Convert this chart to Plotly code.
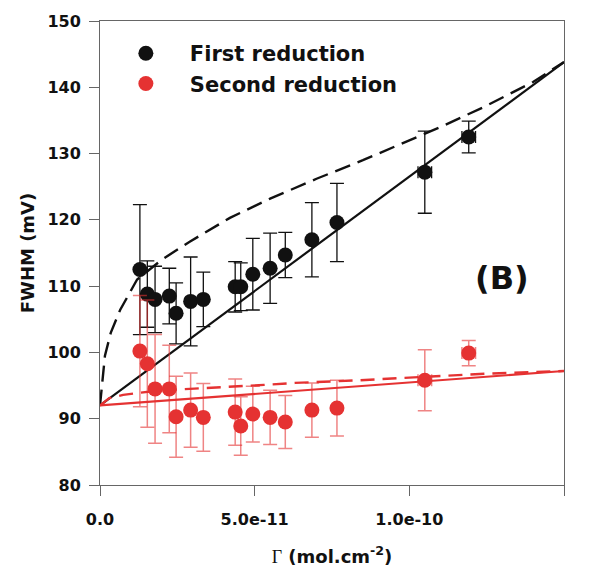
import plotly.graph_objects as go

# ---------------- data ----------------
gamma = [1.29e-11, 1.53e-11, 1.78e-11, 2.24e-11, 2.46e-11, 2.93e-11, 3.34e-11, 4.37e-11,
         4.55e-11, 4.94e-11, 5.50e-11, 5.99e-11, 6.85e-11, 7.66e-11, 10.50e-11, 11.92e-11]
gamma_err = [0, 0, 0, 0, 0, 0, 0, 0, 0, 0, 0, 0, 0, 0, 0.22e-11, 0.22e-11]

first_fwhm = [112.5, 108.8, 108.0, 108.5, 105.9, 107.7, 108.0, 109.9,
              109.9, 111.8, 112.7, 114.7, 117.0, 119.6, 127.2, 132.5]
first_err = [9.8, 5.0, 5.0, 4.2, 4.6, 6.7, 4.1, 3.8, 3.6, 5.4, 5.3, 3.4, 5.6, 5.9, 6.2, 2.4]

second_fwhm = [100.2, 98.3, 94.5, 94.5, 90.3, 91.3, 90.2, 91.0,
               88.9, 90.7, 90.2, 89.5, 91.3, 91.6, 95.8, 99.9]
second_err = [8.4, 9.6, 8.2, 6.6, 6.1, 5.6, 5.1, 5.0, 4.4, 4.2, 4.1, 4.0, 4.1, 4.2, 4.6, 1.9]

# model lines
lin_x = [0.0, 1.5e-10]
first_lin_y = [92.0, 143.8]
second_lin_y = [92.0, 97.2]

first_dash_x = [0.0, 0.07e-11, 0.16e-11, 0.35e-11, 0.65e-11, 1.2e-11, 2.0e-11, 2.9e-11, 4.2e-11,
                5.5e-11, 7.0e-11, 8.5e-11, 9.8e-11, 11.0e-11, 12.4e-11, 14.0e-11, 15.0e-11]
first_dash_y = [92.0, 95.0, 99.5, 103.0, 106.4, 111.0, 114.0, 116.7, 120.3,
                123.2, 126.2, 129.0, 131.6, 134.0, 137.0, 140.8, 143.8]

second_dash_x = [0.0, 0.3e-11, 0.75e-11, 1.8e-11, 2.9e-11, 4.2e-11, 5.3e-11, 6.3e-11,
                 8.4e-11, 10.4e-11, 12.5e-11, 15.0e-11]
second_dash_y = [92.0, 93.1, 93.6, 94.2, 94.5, 94.8, 95.1, 95.4,
                 95.8, 96.3, 96.8, 97.2]

x_tickvals = [0.0, 5e-11, 1e-10, 1.5e-10]
x_ticktext = ["0.0", "5.0e-11", "1.0e-10", "1.5e-10"]
y_tickvals = [80, 90, 100, 110, 120, 130, 140, 150]

BLACK = "#111111"
RED = "#e53232"
RED_ERR = "rgba(229,50,50,0.6)"
FONT = "DejaVu Sans"

fig = go.Figure()

# lines
fig.add_trace(go.Scatter(x=first_dash_x, y=first_dash_y, mode="lines", showlegend=False,
                         line=dict(color=BLACK, width=2.4, dash="16px,8px"), hoverinfo="skip"))
fig.add_trace(go.Scatter(x=lin_x, y=first_lin_y, mode="lines", showlegend=False,
                         line=dict(color=BLACK, width=2.2), hoverinfo="skip"))
fig.add_trace(go.Scatter(x=second_dash_x, y=second_dash_y, mode="lines", showlegend=False,
                         line=dict(color=RED, width=2.4, dash="14px,8px"), hoverinfo="skip"))
fig.add_trace(go.Scatter(x=lin_x, y=second_lin_y, mode="lines", showlegend=False,
                         line=dict(color=RED, width=2.2), hoverinfo="skip"))

# data points
fig.add_trace(go.Scatter(
    x=gamma, y=first_fwhm, mode="markers", name="First reduction",
    marker=dict(color=BLACK, size=15),
    error_y=dict(type="data", array=first_err, color=BLACK, thickness=1.3, width=7),
    error_x=dict(type="data", array=gamma_err, color=BLACK, thickness=1.3, width=6),
))
fig.add_trace(go.Scatter(
    x=gamma, y=second_fwhm, mode="markers", name="Second reduction",
    marker=dict(color=RED, size=15),
    error_y=dict(type="data", array=second_err, color=RED_ERR, thickness=1.5, width=7),
    error_x=dict(type="data", array=gamma_err, color=RED_ERR, thickness=1.5, width=6),
))

fig.add_annotation(x=1.3e-10, y=111.3, text="(B)", showarrow=False,
                   font=dict(family=FONT, size=32, color=BLACK, weight="bold"))

axis_common = dict(
    showgrid=False, zeroline=False, showline=True, linecolor="#666666", linewidth=1,
    mirror=True, ticks="outside", ticklen=10, tickcolor="#666666", tickwidth=1,
    tickfont=dict(family=FONT, size=16, color=BLACK, weight="bold"),
)

fig.update_xaxes(
    range=[0, 1.5e-10], tickvals=x_tickvals, ticktext=x_ticktext,
    ticklabelstandoff=10,
    title=dict(text="<span style='font-family:Liberation Serif, Times New Roman, serif; font-weight:normal'>Γ</span> (mol.cm<sup>-2</sup>)",
               font=dict(family=FONT, size=18, color=BLACK, weight="bold"), standoff=28),
    **axis_common,
)
fig.update_yaxes(
    range=[80, 150], tickvals=y_tickvals,
    ticklabelstandoff=5,
    title=dict(text="FWHM (mV)", font=dict(family=FONT, size=18, color=BLACK, weight="bold"),
               standoff=8),
    **axis_common,
)

# the page body adds an 8px margin, so the figure is sized to fit the 597x567 window
fig.update_layout(
    width=589, height=559,
    margin=dict(l=92, r=33, t=13, b=82, autoexpand=False),
    plot_bgcolor="white", paper_bgcolor="white",
    legend=dict(x=0.004, y=0.974, xanchor="left", yanchor="top", bgcolor="rgba(0,0,0,0)",
                font=dict(family=FONT, size=21, color=BLACK, weight="bold"),
                itemwidth=78, tracegroupgap=0),
)

fig.write_html("out.html")
